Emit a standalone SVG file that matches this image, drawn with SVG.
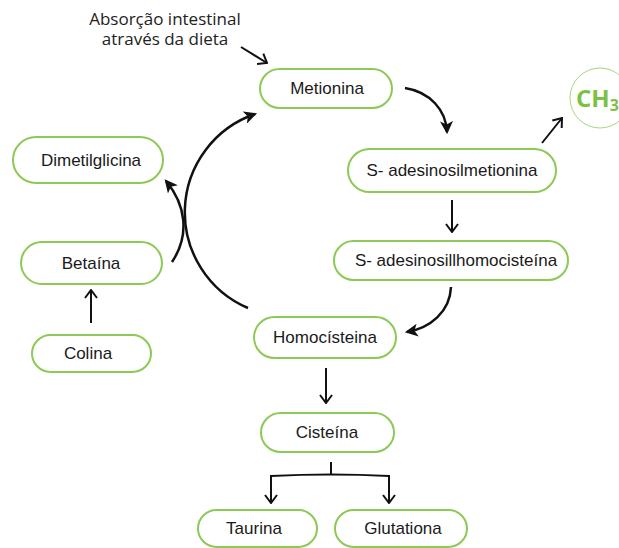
<svg xmlns="http://www.w3.org/2000/svg" width="619" height="548" viewBox="0 0 619 548">
<style>
.box{fill:#fff;stroke:#8cc955;stroke-width:2}
.lbl{font-family:"Liberation Sans",Arial,sans-serif;font-size:17px;fill:#1a1a1a;text-anchor:middle}
.ln{fill:none;stroke:#111;stroke-width:2}
.cv{fill:none;stroke:#111;stroke-width:2.5}
</style>
<defs>
<marker id="open" viewBox="0 0 10 14" markerWidth="10" markerHeight="14" refX="9" refY="7" orient="auto" markerUnits="userSpaceOnUse">
<path d="M1,1 L9,7 L1,13" fill="none" stroke="#111" stroke-width="2"/>
</marker>
<marker id="fill" viewBox="0 0 12 12" markerWidth="13" markerHeight="13" refX="10" refY="6" orient="auto" markerUnits="userSpaceOnUse">
<path d="M0,0 L12,6 L0,12 L3,6 z" fill="#111"/>
</marker>
</defs>
<rect width="619" height="548" fill="#fff"/>

<g id="connectors">
<path class="ln" d="M241,47 L267,63" marker-end="url(#open)"/>
<path class="cv" d="M405,88 C430,92 446,110 447,132" marker-end="url(#fill)"/>
<path class="ln" d="M542,143 L562,118" marker-end="url(#open)"/>
<path class="ln" d="M452,200 V232" marker-end="url(#open)"/>
<path class="cv" d="M451,287 C450,312 430,328 407,332" marker-end="url(#fill)"/>
<path class="ln" d="M326,368 V403" marker-end="url(#open)"/>
<path class="ln" d="M331,462 V475"/>
<path class="ln" d="M271,503 V476 Q331,473 389,476 V503"/>
<path class="ln" d="M271,492 V503" marker-end="url(#open)"/>
<path class="ln" d="M389,492 V503" marker-end="url(#open)"/>
<path class="ln" d="M91,323 V290" marker-end="url(#open)"/>
<path class="cv" d="M172,262 C190,235 186,205 166,181" marker-end="url(#fill)"/>
<path class="cv" d="M248,308 A104,104 0 0 1 255,114" marker-end="url(#fill)"/>
</g>

<g id="absorcao">
<text font-family="'Open Sans',sans-serif" font-size="17" fill="#222" text-anchor="middle"><tspan x="165" y="25">Absorção intestinal</tspan><tspan x="165" y="45">através da dieta</tspan></text>
</g>

<g id="metionina"><rect class="box" x="260" y="69" width="132" height="39" rx="19.5"/><text class="lbl" x="327" y="94">Metionina</text></g>
<g id="sam"><rect class="box" x="348" y="149" width="208" height="43" rx="21.5"/><text class="lbl" x="452" y="176">S- adesinosilmetionina</text></g>
<g id="ch3"><circle cx="600" cy="98" r="30" fill="#fff" stroke="#a6d67a" stroke-width="1"/><text x="576" y="107" font-family="'Open Sans','Liberation Sans',sans-serif" font-weight="bold" font-size="24" fill="#7bc144">CH<tspan font-size="16" dy="4">3</tspan></text></g>
<g id="sah"><rect class="box" x="334" y="241" width="234" height="39" rx="19.5"/><text class="lbl" x="456" y="266">S- adesinosillhomocisteína</text></g>
<g id="homocisteina"><rect class="box" x="254" y="317" width="142" height="41" rx="20.5"/><text class="lbl" x="325" y="343">Homocísteina</text></g>
<g id="cisteina"><rect class="box" x="261" y="413" width="133" height="39" rx="19.5"/><text class="lbl" x="327" y="438">Cisteína</text></g>
<g id="taurina"><rect class="box" x="198" y="510" width="119" height="37" rx="18.5"/><text class="lbl" x="254" y="534">Taurina</text></g>
<g id="glutationa"><rect class="box" x="335" y="510" width="132" height="37" rx="18.5"/><text class="lbl" x="403" y="534">Glutationa</text></g>
<g id="dimetilglicina"><rect class="box" x="13" y="137" width="150" height="46" rx="23"/><text class="lbl" x="91" y="166">Dimetilglicina</text></g>
<g id="betaina"><rect class="box" x="21" y="242" width="141" height="42" rx="21"/><text class="lbl" x="91" y="269">Betaína</text></g>
<g id="colina"><rect class="box" x="32" y="335" width="119" height="37" rx="18.5"/><text class="lbl" x="88" y="359">Colina</text></g>
</svg>
